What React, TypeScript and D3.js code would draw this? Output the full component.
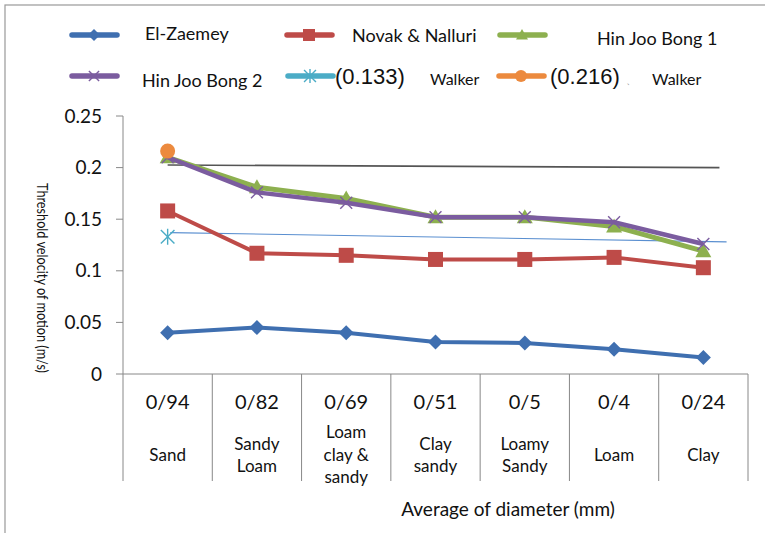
import * as d3 from "d3";

const CATEGORIES = ["0/94", "0/82", "0/69", "0/51", "0/5", "0/4", "0/24"];
const SOIL_NAMES = [
  ["Sand"],
  ["Sandy", "Loam"],
  ["Loam", "clay &", "sandy"],
  ["Clay", "sandy"],
  ["Loamy", "Sandy"],
  ["Loam"],
  ["Clay"],
];

const EL_ZAEMEY = [0.04, 0.045, 0.04, 0.031, 0.03, 0.024, 0.016];
const NOVAK = [0.158, 0.117, 0.115, 0.111, 0.111, 0.113, 0.103];
const HIN_JOO_1 = [0.21, 0.181, 0.17, 0.152, 0.152, 0.143, 0.119];
const HIN_JOO_2 = [0.21, 0.176, 0.166, 0.152, 0.152, 0.147, 0.126];
const WALKER_133 = [0.133];
const WALKER_216 = [0.216];

// hand-drawn guide lines, [category index, value]
const GREY_LINE = [[0, 0.2025], [6.18, 0.2]];
const BLUE_LINE = [[0.03, 0.137], [6.26, 0.128]];

const Y_TICKS = [0, 0.05, 0.1, 0.15, 0.2, 0.25];

const FONT = "Lato, 'Open Sans', sans-serif";

const C = {
  blue: "#3f6fb0",
  red: "#be4b48",
  green: "#8db04f",
  purple: "#7b5c9f",
  aqua: "#4bacc6",
  orange: "#ec8a3e",
};

type Kind = "diamond" | "square" | "triangle" | "x" | "asterisk" | "circle";

function Marker({ kind, cx, cy, s, color }: { kind: Kind; cx: number; cy: number; s: number; color: string }) {
  if (kind === "diamond")
    return <path d={`M${cx},${cy - s}L${cx + s},${cy}L${cx},${cy + s}L${cx - s},${cy}Z`} fill={color} />;
  if (kind === "square")
    return <rect x={cx - s} y={cy - s} width={2 * s} height={2 * s} fill={color} />;
  if (kind === "triangle")
    return <path d={`M${cx},${cy - s}L${cx + s},${cy + s * 0.75}L${cx - s},${cy + s * 0.75}Z`} fill={color} />;
  if (kind === "circle") return <circle cx={cx} cy={cy} r={s} fill={color} />;
  const k = s * 0.85;
  return (
    <g stroke={color} strokeWidth={1.4}>
      <line x1={cx - k} y1={cy - k} x2={cx + k} y2={cy + k} />
      <line x1={cx - k} y1={cy + k} x2={cx + k} y2={cy - k} />
      {kind === "asterisk" && <line x1={cx} y1={cy - s} x2={cx} y2={cy + s} />}
    </g>
  );
}

const SERIES = [
  { name: "El-Zaemey", values: EL_ZAEMEY, color: C.blue, kind: "diamond" as Kind, w: 4, s: 7.5 },
  { name: "Novak & Nalluri", values: NOVAK, color: C.red, kind: "square" as Kind, w: 4, s: 7.5 },
  { name: "Hin Joo Bong 1", values: HIN_JOO_1, color: C.green, kind: "triangle" as Kind, w: 5, s: 8 },
  { name: "Hin Joo Bong 2", values: HIN_JOO_2, color: C.purple, kind: "x" as Kind, w: 4.5, s: 7 },
  { name: "(0.133)", values: WALKER_133, color: C.aqua, kind: "asterisk" as Kind, w: 4, s: 8 },
  { name: "(0.216)", values: WALKER_216, color: C.orange, kind: "circle" as Kind, w: 4, s: 7.5 },
];

export default function App() {
  const width = 765;
  const height = 533;
  const left = 123, right = 748, top = 116, bottom = 374;

  const x = d3.scaleBand().domain(CATEGORIES).range([left, right]);
  const bw = x.bandwidth();
  const cx = (i: number) => (x(CATEGORIES[i]) as number) + bw / 2;
  const xi = d3.scaleLinear().domain([0, CATEGORIES.length - 1]).range([cx(0), cx(CATEGORIES.length - 1)]);
  const y = d3.scaleLinear().domain([0, 0.25]).range([bottom, top]);

  const line = d3.line<number>().x((_, i) => cx(i)).y((d) => y(d));
  const guide = d3.line<number[]>().x((d) => xi(d[0])).y((d) => y(d[1]));

  const legend = [
    { idx: 0, lx: 72, ly: 35, tx: 145, ty: 40, fs: 18 },
    { idx: 1, lx: 287, ly: 35, tx: 352, ty: 42, fs: 18 },
    { idx: 2, lx: 500, ly: 35, tx: 597, ty: 45, fs: 18 },
    { idx: 3, lx: 72, ly: 76, tx: 142, ty: 87, fs: 18 },
  ];

  return (
    <svg width={width} height={height} style={{ position: "absolute", left: 0, top: 0, background: "#fff" }} fontFamily={FONT}>
      {/* outer frame */}
      <rect x={5} y={5} width={800} height={600} fill="none" stroke="#999" strokeWidth={1.2} />

      {/* legend */}
      {legend.map((l) => {
        const s = SERIES[l.idx];
        return (
          <g key={s.name}>
            <line x1={l.lx} x2={l.lx + 45} y1={l.ly} y2={l.ly} stroke={s.color} strokeWidth={5.5} strokeLinecap="round" />
            <Marker kind={s.kind} cx={l.lx + 22} cy={l.ly} s={6} color={s.color} />
            <text x={l.tx} y={l.ty} fontSize={l.fs} fill="#111">{s.name}</text>
          </g>
        );
      })}
      <g>
        <line x1={288} x2={333} y1={76} y2={76} stroke={C.aqua} strokeWidth={5.5} strokeLinecap="round" />
        <Marker kind="asterisk" cx={310} cy={76} s={7} color={C.aqua} />
        <text x={335} y={84} fontSize={22} fontFamily="'Liberation Sans', Arial, sans-serif" fill="#111">(0.133)</text>
        <text x={430} y={85} fontSize={16} fill="#111">Walker</text>
      </g>
      <g>
        <line x1={499} x2={544} y1={76} y2={76} stroke={C.orange} strokeWidth={5.5} strokeLinecap="round" />
        <Marker kind="circle" cx={521} cy={76} s={6} color={C.orange} />
        <text x={550} y={84} fontSize={22} fontFamily="'Liberation Sans', Arial, sans-serif" fill="#111">(0.216)</text>
        <text x={626} y={84} fontSize={10} fill="#999">、</text>
        <text x={652} y={85} fontSize={16} fill="#111">Walker</text>
      </g>

      {/* y axis */}
      <line x1={left} x2={left} y1={top} y2={bottom} stroke="#888" />
      {Y_TICKS.map((t) => (
        <g key={t}>
          <line x1={left - 7} x2={left} y1={y(t)} y2={y(t)} stroke="#888" />
          <text x={102} y={y(t)} dy="0.35em" textAnchor="end" fontSize={19} fill="#111">{t}</text>
        </g>
      ))}
      <text
        transform={`translate(42,278) rotate(90)`}
        textAnchor="middle"
        dy="0.35em"
        fontSize={15}
        textLength={190}
        lengthAdjust="spacingAndGlyphs"
        fill="#111"
      >
        Threshold velocity of motion (m/s)
      </text>

      {/* category table */}
      <line x1={left} x2={right} y1={bottom} y2={bottom} stroke="#888" />
      {d3.range(CATEGORIES.length + 1).map((i) => {
        const xx = i < CATEGORIES.length ? (x(CATEGORIES[i]) as number) : right;
        return <line key={i} x1={xx} x2={xx} y1={bottom} y2={481} stroke="#888" />;
      })}
      {CATEGORIES.map((c, i) => (
        <g key={c}>
          <text x={cx(i)} y={402} dy="0.35em" textAnchor="middle" fontSize={20} fill="#111">{c}</text>
          {SOIL_NAMES[i].map((n, j) => (
            <text
              key={j}
              x={cx(i)}
              y={455 + (j - (SOIL_NAMES[i].length - 1) / 2) * 22.5}
              dy="0.35em"
              textAnchor="middle"
              fontSize={17}
              fill="#111"
            >
              {n}
            </text>
          ))}
        </g>
      ))}
      <text x={508} y={509} dy="0.35em" textAnchor="middle" fontSize={19} fill="#111">Average of diameter (mm)</text>

      {/* guide lines */}
      <path d={guide(GREY_LINE) as string} stroke="#555" strokeWidth={1.6} fill="none" />
      <path d={guide(BLUE_LINE) as string} stroke="#5a8fd0" strokeWidth={1.1} fill="none" />

      {/* series */}
      {SERIES.map((s) => (
        <g key={s.name}>
          {s.values.length > 1 && (
            <path d={line(s.values) as string} stroke={s.color} strokeWidth={s.w} fill="none" strokeLinejoin="round" />
          )}
          {s.values.map((v, i) => (
            <Marker key={i} kind={s.kind} cx={cx(i)} cy={y(v)} s={s.s} color={s.color} />
          ))}
        </g>
      ))}
    </svg>
  );
}
